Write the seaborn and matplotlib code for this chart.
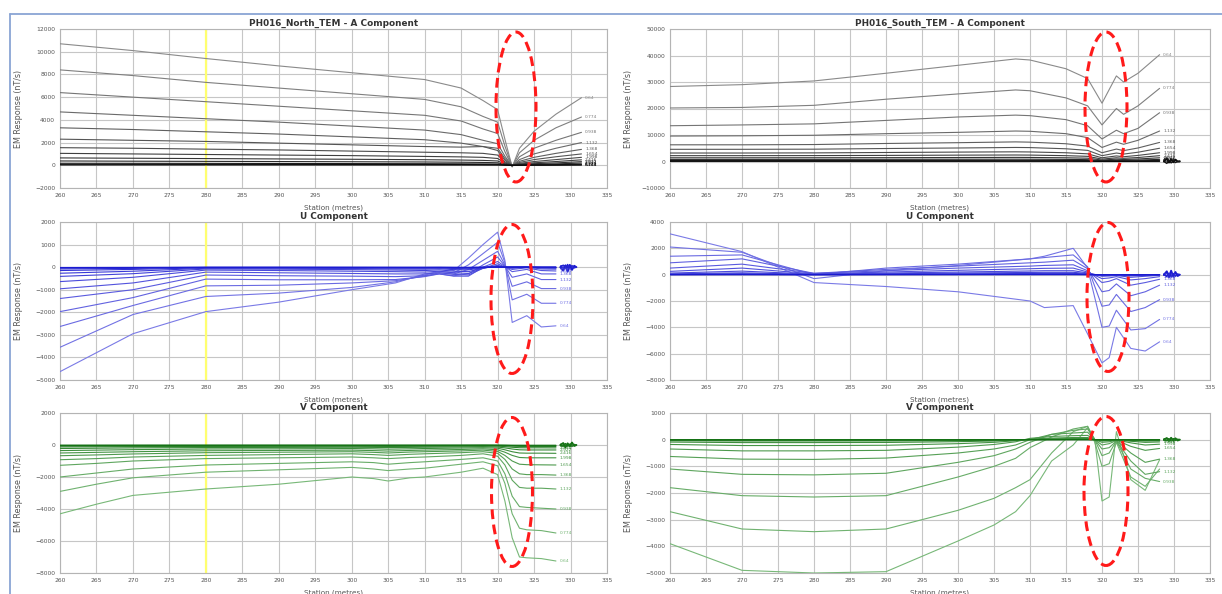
import numpy as np
import pandas as pd
import matplotlib
matplotlib.use('Agg')
import matplotlib.pyplot as plt
import seaborn as sns
from matplotlib.patches import Ellipse
from matplotlib.lines import Line2D

# channel delay times (ms) used as curve labels
channel_times = ['0.64', '0.774', '0.938', '1.132', '1.368', '1.654', '1.998',
                 '2.416', '2.922', '3.534', '4.274', '5.164', '6.244']

# ---------------- NORTH LOOP ----------------
north_a_st = [260, 270, 280, 290, 300, 310, 315, 318, 320, 321, 322, 323, 325, 328, 331.5]
north_a = [
    [10700, 10100, 9400, 8750, 8150, 7550, 6800, 5700, 4900, 2300, -150, 1500, 3000, 4500, 5950],
    [8400, 7900, 7300, 6800, 6300, 5800, 5150, 4300, 3800, 1700, -100, 1100, 2200, 3300, 4250],
    [6400, 6000, 5600, 5200, 4800, 4400, 3900, 3200, 2800, 1200, -100, 750, 1500, 2200, 2900],
    [4700, 4400, 4100, 3800, 3450, 3100, 2700, 2200, 1900, 800, -80, 500, 1000, 1500, 2000],
    [3300, 3150, 2950, 2750, 2500, 2250, 1950, 1650, 1500, 600, -50, 350, 700, 1050, 1400],
    [2300, 2200, 2100, 1950, 1800, 1650, 1600, 1650, 1300, 450, -50, 250, 500, 750, 1000],
    [1550, 1500, 1420, 1350, 1250, 1150, 1100, 1050, 900, 300, -30, 170, 330, 500, 700],
    [1050, 1000, 950, 900, 850, 780, 740, 700, 600, 200, -20, 110, 220, 330, 480],
    [650, 620, 590, 560, 530, 490, 460, 430, 380, 120, -10, 70, 140, 210, 320],
    [380, 360, 345, 330, 310, 290, 270, 250, 220, 70, 0, 40, 80, 120, 200],
    [180, 175, 170, 160, 150, 140, 130, 120, 110, 40, 0, 20, 40, 60, 100],
    [90, 85, 80, 78, 74, 70, 65, 60, 55, 20, 0, 10, 20, 30, 50],
    [30, 30, 28, 27, 25, 24, 22, 20, 18, 8, 0, 5, 8, 12, 20],
]

north_u_st = [260, 270, 280, 290, 300, 306, 310, 312, 314, 316, 318, 320, 321, 322, 324, 326, 328]
north_u = [
    [-4630, -2950, -1970, -1550, -1000, -700, -300, -200, -150, 400, 1000, 1550, 300, -2450, -2150, -2650, -2600],
    [-3550, -2100, -1300, -1150, -900, -650, -350, -200, -250, 100, 600, 1100, 200, -1450, -1200, -1600, -1600],
    [-2630, -1700, -830, -800, -700, -600, -400, -250, -300, -100, 300, 700, 100, -850, -650, -950, -950],
    [-1970, -1350, -530, -560, -560, -550, -420, -300, -380, -300, 100, 450, 50, -450, -300, -550, -550],
    [-1390, -1000, -350, -380, -400, -420, -380, -300, -400, -400, 0, 250, 30, -200, -100, -300, -300],
    [-960, -700, -220, -250, -280, -300, -300, -250, -320, -350, -50, 150, 0, -100, -30, -150, -170],
    [-640, -450, -130, -150, -180, -200, -220, -180, -250, -280, -50, 80, 0, -50, 0, -80, -90],
    [-410, -290, -80, -90, -110, -130, -150, -120, -180, -200, -40, 40, 0, -20, 0, -40, -50],
    [-270, -180, -50, -50, -60, -80, -90, -70, -110, -120, -30, 20, 0, -10, 0, -20, -25],
    [-150, -100, -30, -30, -35, -45, -50, -40, -60, -70, -20, 10, 0, 0, 0, -10, -10],
    [-80, -55, -15, -15, -18, -22, -25, -20, -30, -35, -10, 5, 0, 0, 0, -5, -5],
    [-40, -28, -8, -8, -9, -11, -12, -10, -15, -18, -5, 2, 0, 0, 0, -2, -2],
    [-15, -10, -3, -3, -4, -5, -5, -4, -6, -7, -2, 1, 0, 0, 0, -1, -1],
]

north_v_st = [260, 265, 270, 280, 290, 300, 303, 305, 308, 310, 315, 318, 320, 321, 322, 323, 324, 326, 328]
north_v = [
    [-4300, -3700, -3150, -2750, -2450, -2000, -2100, -2250, -2050, -2000, -1700, -1450, -1850, -3500, -5800, -7000, -7050, -7100, -7250],
    [-2900, -2450, -2050, -1700, -1550, -1400, -1500, -1600, -1500, -1450, -1200, -1050, -1300, -2400, -4300, -5200, -5300, -5350, -5500],
    [-2000, -1750, -1500, -1250, -1150, -1050, -1100, -1200, -1100, -1050, -900, -800, -1000, -1800, -3200, -3850, -3900, -3950, -4000],
    [-1270, -1150, -1000, -850, -800, -750, -800, -850, -780, -750, -650, -550, -700, -1250, -2200, -2650, -2700, -2700, -2750],
    [-920, -850, -750, -650, -600, -550, -600, -650, -580, -550, -480, -420, -520, -900, -1500, -1800, -1850, -1850, -1880],
    [-670, -620, -560, -480, -450, -420, -460, -500, -440, -420, -370, -320, -400, -650, -1000, -1200, -1230, -1240, -1250],
    [-500, -460, -420, -360, -340, -320, -350, -380, -340, -320, -280, -240, -300, -450, -650, -780, -800, -800, -800],
    [-350, -320, -290, -250, -240, -220, -240, -260, -240, -220, -190, -170, -200, -300, -420, -500, -510, -510, -520],
    [-220, -200, -180, -160, -150, -140, -150, -160, -150, -140, -120, -100, -130, -180, -250, -300, -310, -310, -310],
    [-120, -110, -100, -90, -85, -80, -85, -90, -85, -80, -70, -60, -70, -100, -140, -170, -175, -175, -180],
    [-60, -55, -50, -45, -42, -40, -42, -45, -42, -40, -35, -30, -35, -50, -70, -85, -88, -88, -90],
    [-30, -28, -25, -22, -21, -20, -21, -22, -21, -20, -18, -15, -18, -25, -35, -42, -44, -44, -45],
    [-10, -9, -8, -7, -7, -7, -7, -7, -7, -7, -6, -5, -6, -8, -12, -14, -15, -15, -15],
]

# ---------------- SOUTH LOOP ----------------
south_a_st = [260, 270, 280, 290, 300, 308, 310, 315, 318, 320, 322, 323, 325, 328]
south_a = [
    [28300, 29000, 30400, 33300, 36300, 38700, 38300, 35000, 31300, 22000, 32300, 30000, 33300, 40300],
    [20200, 20400, 21200, 23500, 25500, 27000, 26700, 24000, 21000, 13800, 20000, 17800, 21000, 27600],
    [13500, 13800, 14200, 15500, 16800, 17500, 17300, 15800, 13500, 8500, 11800, 10500, 12500, 18400],
    [9600, 9700, 9900, 10500, 11000, 11500, 11400, 10500, 9000, 5300, 7300, 6500, 8000, 11500],
    [6300, 6300, 6400, 6800, 7100, 7400, 7300, 6700, 5800, 3300, 4700, 4100, 5100, 7200],
    [4600, 4600, 4650, 4900, 5100, 5300, 5250, 4800, 4200, 2200, 3200, 2800, 3500, 5000],
    [3200, 3200, 3250, 3400, 3550, 3650, 3600, 3300, 2900, 1400, 2100, 1800, 2300, 3300],
    [2200, 2200, 2230, 2300, 2400, 2450, 2420, 2200, 1950, 900, 1400, 1200, 1500, 2200],
    [1400, 1400, 1420, 1450, 1500, 1550, 1530, 1400, 1250, 550, 900, 750, 950, 1400],
    [800, 800, 810, 830, 860, 880, 870, 800, 700, 300, 500, 420, 550, 800],
    [400, 400, 405, 415, 430, 440, 435, 400, 350, 150, 250, 210, 275, 400],
    [180, 180, 182, 187, 193, 198, 196, 180, 158, 68, 113, 95, 124, 180],
    [60, 60, 61, 62, 64, 66, 65, 60, 53, 23, 38, 32, 41, 60],
]

south_u_st = [260, 270, 280, 290, 300, 310, 312, 316, 318, 320, 321, 322, 324, 326, 328]
south_u = [
    [3100, 1750, -600, -900, -1300, -2000, -2500, -2350, -4500, -6700, -6300, -4000, -5600, -5800, -5100],
    [2100, 1700, -300, 300, 700, 1200, 1400, 2000, 500, -4000, -3900, -2700, -4200, -4100, -3400],
    [1400, 1500, 0, 500, 800, 1200, 1300, 1500, 600, -2400, -2300, -1500, -2800, -2500, -1900],
    [900, 1200, 100, 400, 650, 900, 950, 1100, 450, -1300, -1200, -700, -1600, -1300, -800],
    [500, 800, 100, 300, 500, 650, 700, 750, 300, -600, -500, -300, -800, -600, -350],
    [250, 500, 60, 200, 330, 450, 480, 500, 200, -300, -250, -150, -400, -300, -150],
    [120, 270, 40, 120, 200, 280, 300, 300, 130, -120, -100, -60, -200, -120, -50],
    [60, 140, 20, 70, 120, 170, 180, 180, 80, -50, -40, -20, -90, -50, 0],
    [30, 70, 10, 40, 60, 90, 100, 100, 40, -20, -20, -10, -40, -20, 0],
    [10, 30, 5, 20, 30, 40, 50, 50, 20, -10, -10, 0, -20, -10, 0],
    [5, 15, 2, 10, 15, 20, 25, 25, 10, -5, -5, 0, -10, -5, 0],
    [2, 6, 1, 4, 6, 8, 10, 10, 4, -2, -2, 0, -4, -2, 0],
    [1, 2, 0, 1, 2, 3, 3, 3, 1, -1, -1, 0, -1, -1, 0],
]

south_v_st = [260, 270, 280, 290, 300, 305, 308, 310, 313, 316, 318, 319, 320, 321, 322, 324, 326, 328]
south_v = [
    [-3900, -4900, -5000, -4950, -3800, -3200, -2700, -2100, -800, -200, 450, 0, -2300, -2150, 300, -1500, -1900, -750],
    [-2700, -3350, -3450, -3350, -2650, -2200, -1800, -1500, -500, 300, 500, -100, -1000, -900, -100, -1400, -1750, -1100],
    [-1800, -2100, -2150, -2100, -1400, -1000, -700, -300, 100, 400, 500, 0, -600, -500, -50, -1100, -1450, -1570],
    [-1100, -1300, -1320, -1260, -850, -600, -350, -100, 200, 350, 400, 0, -350, -300, -50, -800, -1300, -1200],
    [-630, -730, -740, -690, -500, -350, -200, 0, 200, 250, 280, 0, -200, -150, -30, -500, -850, -730],
    [-350, -420, -420, -400, -280, -180, -80, 50, 120, 150, 160, 0, -100, -80, -20, -250, -400, -330],
    [-180, -220, -220, -210, -150, -100, -40, 20, 60, 80, 80, 0, -50, -40, -10, -120, -200, -170],
    [-90, -110, -110, -105, -75, -50, -20, 10, 30, 40, 40, 0, -25, -20, -5, -60, -100, -85],
    [-40, -50, -50, -48, -35, -25, -10, 5, 15, 20, 20, 0, -12, -10, 0, -30, -50, -40],
    [-15, -20, -20, -19, -14, -10, -4, 2, 6, 8, 8, 0, -5, -4, 0, -12, -20, -16],
    [-8, -10, -10, -9, -7, -5, -2, 1, 3, 4, 4, 0, -2, -2, 0, -6, -10, -8],
    [-4, -5, -5, -4, -3, -2, -1, 0, 1, 2, 2, 0, -1, -1, 0, -3, -5, -4],
    [-1, -2, -2, -1, -1, -1, 0, 0, 0, 1, 1, 0, 0, 0, 0, -1, -2, -1],
]

# late-time noise at the end of each profile
tail_st = [328.6, 329.0, 329.3, 329.6, 329.9, 330.2, 330.5, 330.8]
north_u_tail = [0, -150, 80, -200, 100, -120, 60, 0]
north_v_tail = [0, 120, -150, 100, -80, 150, -60, 0]
south_a_tail = [0, 1200, -400, 900, -300, 700, 0, 100]
south_u_tail = [0, 250, -200, 300, -150, 200, -100, 0]
south_v_tail = [0, 60, -50, 70, -40, 50, -30, 0]


def panel_frame(stations, rows):
    recs = []
    for ch, vals in zip(channel_times, rows):
        for s, v in zip(stations, vals):
            recs.append((ch, s, v))
    return pd.DataFrame(recs, columns=['channel', 'station', 'response'])


def draw_panel(ax, stations, rows, pal, ylim, ystep, title, first_label=0,
               tail=None, yellow=False):
    df = panel_frame(stations, rows)
    if yellow:
        ax.axvline(280, color='#ffff70', lw=1.6, zorder=1)
    sns.lineplot(data=df, x='station', y='response', hue='channel',
                 hue_order=channel_times[:len(rows)], palette=pal,
                 estimator=None, sort=False, legend=False, lw=0.8,
                 ax=ax, zorder=3)
    if tail is not None:
        ax.plot(tail_st, tail, color=pal[-1], lw=1.4, zorder=3)
        ax.plot(tail_st, [-t * 0.6 for t in tail], color=pal[-2], lw=1.0, zorder=3)
    for i, vals in enumerate(rows):
        if i < first_label:
            continue
        ax.text(stations[-1] + 0.5, vals[-1], channel_times[i], fontsize=3.2,
                color=pal[i], va='center', ha='left', zorder=4)
    ax.set_xlim(260, 335)
    ax.set_xticks(range(260, 336, 5))
    ax.set_ylim(*ylim)
    ax.set_yticks(np.arange(ylim[0], ylim[1] + 1, ystep))
    ax.grid(True, color='#c6c6c6', lw=0.8, zorder=0)
    ax.set_axisbelow(True)
    for sp in ax.spines.values():
        sp.set_color('#b4b4b4')
        sp.set_linewidth(0.8)
    ax.tick_params(labelsize=4.3, colors='#555555', length=2, pad=1.5, width=0.6)
    ax.set_title(title, fontsize=6.4, fontweight='bold', color='#333333', pad=2.5)
    ax.set_ylabel('EM Response (nT/s)', fontsize=5.8, color='#555555')
    ax.yaxis.set_label_coords(-0.068, 0.5)
    ax.set_xlabel('Station (metres)', fontsize=5.2, color='#555555')
    ax.xaxis.set_label_coords(0.5, -0.105)


sns.set_theme(style='white')
plt.rcParams['font.family'] = ['DejaVu Sans']

W, H = 1222, 594
fig = plt.figure(figsize=(W / 100, H / 100), dpi=100)
fig.patch.set_facecolor('white')

grey_pal = sns.blend_palette(['#8a8a8a', '#0a0a0a'], len(channel_times))
blue_pal = sns.blend_palette(['#7a7ae6', '#1a1ad0'], len(channel_times))
green_pal = sns.blend_palette(['#78b878', '#137013'], len(channel_times))

left_x, left_w = 60 / W, 547 / W
right_x, right_w = 670 / W, 540 / W
rows_y = [(29, 188), (222, 380), (413, 573)]


def make_ax(x0, w, top, bot):
    return fig.add_axes([x0, 1 - bot / H, w, (bot - top) / H])


ax_na = make_ax(left_x, left_w, *rows_y[0])
ax_nu = make_ax(left_x, left_w, *rows_y[1])
ax_nv = make_ax(left_x, left_w, *rows_y[2])
ax_sa = make_ax(right_x, right_w, *rows_y[0])
ax_su = make_ax(right_x, right_w, *rows_y[1])
ax_sv = make_ax(right_x, right_w, *rows_y[2])

draw_panel(ax_na, north_a_st, north_a, grey_pal, (-2000, 12000), 2000,
           'PH016_North_TEM - A Component', yellow=True)
draw_panel(ax_nu, north_u_st, north_u, blue_pal, (-5000, 2000), 1000,
           'U Component', tail=north_u_tail, yellow=True)
draw_panel(ax_nv, north_v_st, north_v, green_pal, (-8000, 2000), 2000,
           'V Component', tail=north_v_tail, yellow=True)
draw_panel(ax_sa, south_a_st, south_a, grey_pal, (-10000, 50000), 10000,
           'PH016_South_TEM - A Component', tail=south_a_tail)
draw_panel(ax_su, south_u_st, south_u, blue_pal, (-8000, 4000), 2000,
           'U Component', first_label=0, tail=south_u_tail)
draw_panel(ax_sv, south_v_st, south_v, green_pal, (-5000, 1000), 1000,
           'V Component', first_label=2, tail=south_v_tail)

# light blue frame of the screenshot
frame_c = '#8aa5d4'
fig.add_artist(Line2D([10 / W, 1], [1 - 14 / H, 1 - 14 / H], color=frame_c, lw=1.3))
fig.add_artist(Line2D([10 / W, 10 / W], [0, 1 - 14 / H], color=frame_c, lw=1.3))

# red dashed highlight ellipses (cx, cy, w, h in pixels)
ellipses = [(516, 107, 40, 150), (1106, 107, 42, 150),
            (512, 299, 42, 149), (1108, 297, 42, 149),
            (512, 492, 41, 149), (1106, 491, 44, 149)]
for cx, cy, ew, eh in ellipses:
    fig.add_artist(Ellipse((cx / W, 1 - cy / H), ew / W, eh / H,
                           transform=fig.transFigure, fill=False,
                           ec='#ff1a1a', lw=2.2, ls=(0, (3.2, 1.8)), zorder=10))

fig.savefig('out.png', dpi=100, facecolor='white')
